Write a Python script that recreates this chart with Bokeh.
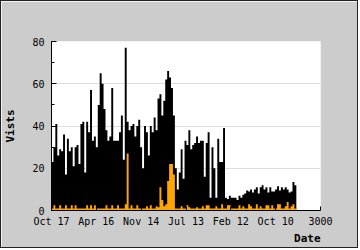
import numpy as np
from bokeh.plotting import figure
from bokeh.models import FixedTicker, SingleIntervalTicker, Range1d, Title, ColumnDataSource
from bokeh.embed import file_html
from bokeh.resources import INLINE

# Days per bin (each bin ~2 screen px); bins counted from day 0
bin_days = 21.5
visits = [23, 30, 41, 26, 29, 28, 36, 17, 34, 28, 30, 21, 30, 31, 22, 41, 42, 18, 42, 37,
          57, 33, 35, 30, 50, 65, 60, 48, 38, 33, 35, 58, 33, 33, 33, 37, 45, 24, 77, 42,
          38, 40, 41, 35, 40, 43, 30, 20, 40, 37, 26, 40, 37, 44, 38, 53, 55, 45, 52, 62,
          66, 63, 58, 45, 20, 10, 18, 29, 15, 33, 31, 38, 29, 31, 32, 35, 32, 33, 33, 16,
          32, 37, 6, 30, 20, 6, 34, 23, 23, 39, 6, 5.5, 7, 6, 6, 6, 5, 7, 6, 7.5,
          8, 9.5, 9, 10, 8.5, 10, 11, 8, 11, 12, 10, 11, 8.5, 11, 9, 9, 10, 11.5, 9.5, 11,
          10, 11, 10, 8.5, 9, 13.5, 12]
other = [1, 2.5, 1, 1, 2.5, 1, 1, 2.5, 1, 1, 2.5, 1, 2.5, 1, 1, 1, 1, 1, 2.5, 1, 2.5, 1, 2.5, 1,
         1, 1, 1, 1, 2.5, 1, 1, 2.5, 1, 1, 2.5, 1, 1, 1, 3, 27, 1, 2.5, 1, 1, 2.5, 1, 1, 1,
         1, 2, 1, 2.5, 1, 1, 2, 1.5, 11, 5, 2, 3, 14, 22, 22, 17, 1, 1, 1, 2, 1, 1, 2.5, 1.5,
         1, 1, 1, 1.5, 1, 1, 2, 1, 2.5, 2.5, 1, 1, 1, 2, 1, 1, 3, 1, 1, 2.5, 2.5, 1, 1, 1,
         1, 2.5, 1, 2, 1, 1, 3, 2, 1, 1, 3, 1, 2, 1, 1, 2.5, 2.5, 1, 2.5, 1, 1, 3, 3, 1, 1,
         2, 4, 1, 2, 3, 1]
tick_days = [0, 500, 1000, 1500, 2000, 2500, 3000]
tick_labels = ["Oct 17", "Apr 16", "Nov 14", "Jul 13", "Feb 12", "Oct 10", "3000"]

# step edges: bin starts plus closing edge
n = len(visits)
edges = np.arange(n + 1) * bin_days
src = ColumnDataSource(dict(x=edges, v=list(visits) + [visits[-1]],
                            o=list(other) + [other[-1]], z=np.zeros(n + 1)))

FONT = "DejaVu Sans Mono"
p = figure(width=358, height=248, output_backend="svg", toolbar_location=None,
           x_range=Range1d(0, 3000), y_range=Range1d(0, 80),
           min_border_left=40, min_border_right=39, min_border_top=40, min_border_bottom=39)
p.styles = {"border": "1px solid #222222"}
p.background_fill_color = "white"
p.border_fill_color = "#cccccc"
p.outline_line_color = None

p.varea_step(x="x", y1="z", y2="v", step_mode="after", source=src, fill_color="black")
p.varea_step(x="x", y1="z", y2="o", step_mode="after", source=src, fill_color="orange")

p.xgrid.visible = False
p.ygrid.grid_line_color = "#dddddd"
p.ygrid.ticker = SingleIntervalTicker(interval=20)

xa = p.xaxis[0]
xa.ticker = FixedTicker(ticks=tick_days)
xa.major_label_overrides = {d: l for d, l in zip(tick_days, tick_labels)}
xa.major_tick_in = 4
xa.major_tick_out = 0
xa.minor_tick_line_color = None
xa.major_label_standoff = 5
xa.major_label_text_font = FONT
xa.major_label_text_font_size = "10px"
xa.major_label_text_color = "black"
xa.axis_line_color = "black"

ya = p.yaxis[0]
ya.ticker = SingleIntervalTicker(interval=20, num_minor_ticks=2)
ya.major_tick_in = 5
ya.major_tick_out = 0
ya.minor_tick_in = 3
ya.minor_tick_out = 0
ya.major_label_standoff = 7
ya.major_label_text_font = FONT
ya.major_label_text_font_size = "10px"
ya.major_label_text_color = "black"
ya.axis_label = "Vists"
ya.axis_label_text_font = FONT
ya.axis_label_text_font_style = "bold"
ya.axis_label_text_font_size = "11px"
ya.axis_label_text_color = "black"
ya.axis_label_standoff = 12
ya.axis_line_color = "black"

p.add_layout(Title(text="Date", align="right", text_font=FONT, text_font_style="bold",
                   text_font_size="11px", text_color="black", standoff=0, offset=0), "below")

open("out.html", "w").write(file_html(p, INLINE))
